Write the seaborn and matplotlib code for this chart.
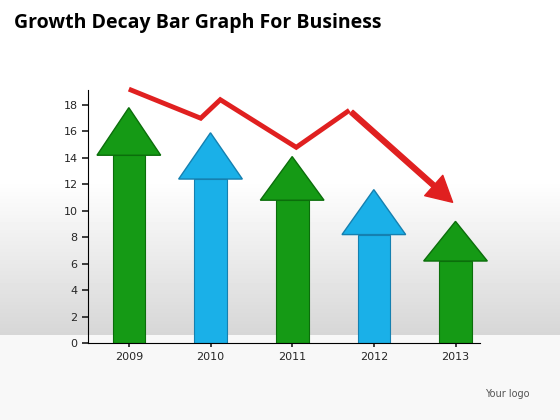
import numpy as np
import seaborn as sns
import matplotlib.pyplot as plt
from matplotlib.patches import Polygon, FancyArrowPatch

years = ["2009", "2010", "2011", "2012", "2013"]
tips = [17.8, 15.9, 14.1, 11.6, 9.2]
head_base = [14.2, 12.4, 10.8, 8.2, 6.2]
colors = ["#159a15", "#1ab0e8", "#159a15", "#1ab0e8", "#159a15"]
edges = ["#0b6e0b", "#1580b0", "#0b6e0b", "#1580b0", "#0b6e0b"]
trend_x = [0.0, 0.88, 1.12, 2.05, 2.7, 3.99]
trend_y = [19.2, 17.0, 18.4, 14.8, 17.6, 10.5]

sns.set_theme(style="white")
fig = plt.figure(figsize=(5.6, 4.2), dpi=100)

# background gradient (row 0 = top of figure)
bg = fig.add_axes([0, 0, 1, 1], zorder=-1)
bg.axis("off")
rows = np.arange(420)
g = np.ones(420)
m = (rows > 180) & (rows < 335)
g[m] = 1 - 0.16 * (rows[m] - 180) / 155
g[rows >= 335] = 0.97
bg.imshow(np.repeat(g[:, None], 2, axis=1), cmap="gray", vmin=0, vmax=1,
          aspect="auto", extent=[0, 1, 0, 1], origin="upper")

ax = fig.add_axes([88 / 560, (420 - 343) / 420, (480 - 88) / 560, (343 - 90) / 420])
ax.set_facecolor("none")
ax.set_xlim(-0.5, 4.3)
ax.set_ylim(0, 18 * 253 / 238)

shaft, head = 0.2, 0.39
sns.barplot(x=list(range(5)), y=head_base, hue=list(range(5)), palette=colors,
            saturation=1, legend=False, width=2 * shaft, ax=ax, native_scale=True, zorder=2)
for bar, e in zip(ax.patches, edges):
    bar.set_edgecolor(e)
    bar.set_linewidth(0.8)
for i, (t, b) in enumerate(zip(tips, head_base)):
    ax.add_patch(Polygon([(i - head, b), (i, t), (i + head, b)], closed=True,
                         facecolor=colors[i], edgecolor=edges[i], lw=1, zorder=3,
                         clip_on=False))

ax.plot(trend_x[:-1], trend_y[:-1], color="#e02020", lw=3.5, solid_capstyle="butt",
        solid_joinstyle="miter", zorder=4, clip_on=False)
ax.add_patch(FancyArrowPatch((trend_x[-2], trend_y[-2]), (trend_x[-1], trend_y[-1]),
                             arrowstyle="simple,head_width=1.4,head_length=1.3,tail_width=0.25",
                             mutation_scale=14, color="#e02020", zorder=4, clip_on=False))

ax.set_xticks(range(5))
ax.set_xticklabels(years, fontsize=8)
ax.set_yticks(range(0, 19, 2))
ax.tick_params(axis="y", labelsize=8, left=True, length=4)
ax.tick_params(axis="x", bottom=True, length=3)
for s in ["top", "right"]:
    ax.spines[s].set_visible(False)
for s in ["left", "bottom"]:
    ax.spines[s].set_color("black")
    ax.spines[s].set_linewidth(0.8)

fig.text(0.025, 0.945, "Growth Decay Bar Graph For Business", fontsize=14,
         fontweight="bold", va="center", ha="left", family="Open Sans", color="black")
fig.text(0.945, 0.055, "Your logo", fontsize=7, color="#555555", ha="right")

fig.savefig("out.png", dpi=100)
